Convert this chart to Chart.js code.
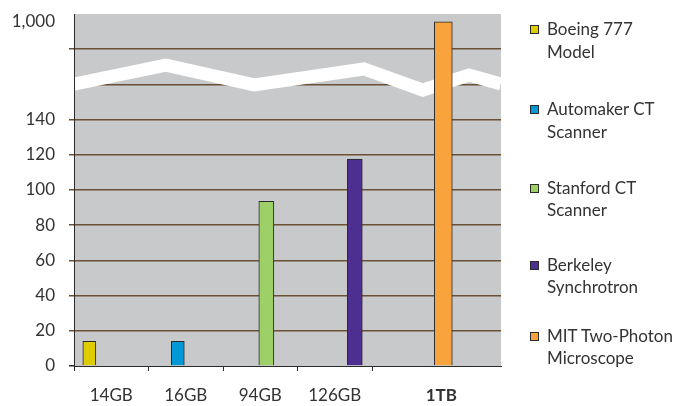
<!DOCTYPE html>
<html><head><meta charset="utf-8">
<script src="https://cdn.jsdelivr.net/npm/chart.js@4.4.1/dist/chart.umd.min.js"></script>
<style>
html,body{margin:0;padding:0;background:#fff;}
#wrap{position:relative;width:689px;height:406px;}
canvas{position:absolute;left:0;top:0;}
#legend{position:absolute;left:0;top:0;width:689px;height:406px;pointer-events:none;font-family:Lato,sans-serif;font-size:17px;color:#333;}
.item{position:absolute;left:530px;line-height:22.6px;white-space:nowrap;}
.box{position:absolute;left:0;top:7px;width:9px;height:9px;box-sizing:border-box;border:1px solid #2a2a2a;}
.txt{position:absolute;left:17px;top:0;}
</style></head>
<body><div id="wrap"><canvas id="c" width="689" height="406"></canvas><div id="legend"></div></div>
<script>
// ---- data ----
const categories = ['14GB', '16GB', '94GB', '126GB', '1TB'];
const seriesNames = [['Boeing 777', 'Model'], ['Automaker CT', 'Scanner'], ['Stanford CT', 'Scanner'], ['Berkeley', 'Synchrotron'], ['MIT Two-Photon', 'Microscope']];
const seriesValues = [14, 14, 93.5, 117.5, 1000];
const seriesColors = ['#dfcc00', '#0099d8', '#9dd066', '#4c2f90', '#f8a33b'];
const yTickValues = [0, 20, 40, 60, 80, 100, 120, 140, 1000];
const yTickLabels = ['0', '20', '40', '60', '80', '100', '120', '140', '1,000'];
// axis break (zigzag) path, in axis units
const breakX = [0, 0.215, 0.422, 0.679, 0.817, 0.925, 1];
const breakY = [160.2, 171, 159.7, 168.75, 156.8, 165.3, 160.2];

// ---- layout / style constants ----
const BREAK_FROM = 150, AXIS_AT_1000 = 195.5;
const toAxis = v => v <= BREAK_FROM ? v : BREAK_FROM + (v - BREAK_FROM) * (AXIS_AT_1000 - BREAK_FROM) / (1000 - BREAK_FROM);
const yGridOnly = [160, 180];
const barWidths = [13, 13, 15, 15, 18];
const xBoundaryTicks = [0, 1, 2, 3, 4];
const xLabelSlots = [0.5, 1.5, 2.5, 3.5, 4.93];
const SLOT_MAX = 5.7315;
const legendBoxCenters = [29.5, 109.5, 188, 265, 336];
const GRID = '#6a5035', DARK = '#2b2b2b', FONT = 'Lato';

const barDatasets = categories.map((c, i) => ({
  type: 'bar',
  label: seriesNames[i].join(' '),
  data: [{ x: i, y: toAxis(seriesValues[i]) }],
  xAxisID: 'x', yAxisID: 'y',
  backgroundColor: seriesColors[i], borderColor: DARK, borderWidth: 1,
  barThickness: barWidths[i], grouped: false, order: 0
}));
const breakDataset = {
  type: 'line', label: 'break',
  data: breakX.map((x, i) => ({ x, y: breakY[i] })),
  xAxisID: 'xb', yAxisID: 'y',
  borderColor: '#ffffff', borderWidth: 13, pointRadius: 0, fill: false,
  tension: 0, borderJoinStyle: 'miter', clip: 0, order: 10
};

const yAxisVals = yTickValues.map(toAxis);
const isAxis = (a, b) => Math.abs(a - b) < 1e-6;

const plotBg = {
  id: 'plotBg',
  beforeDraw(chart) {
    const { ctx, chartArea: a } = chart;
    ctx.save();
    ctx.fillStyle = '#ffffff';
    ctx.fillRect(0, 0, chart.width, chart.height);
    ctx.fillStyle = '#c8c9cb';
    ctx.fillRect(a.left, a.top, a.right - a.left, a.bottom - a.top);
    ctx.restore();
  }
};

new Chart(document.getElementById('c'), {
  type: 'bar',
  data: { datasets: [...barDatasets, breakDataset] },
  plugins: [plotBg],
  options: {
    responsive: false, animation: false, devicePixelRatio: 1,
    layout: { padding: { left: 0, right: 188, top: 14, bottom: 0 } },
    plugins: { legend: { display: false }, tooltip: { enabled: false } },
    scales: {
      x: { type: 'linear', display: false, offset: false, min: -0.173, max: 4.652 },
      xb: { type: 'linear', display: false, offset: false, min: 0, max: 1 },
      xt: {
        type: 'linear', position: 'bottom', offset: false, min: 0, max: SLOT_MAX, weight: 0,
        afterBuildTicks: s => { s.ticks = xBoundaryTicks.map(v => ({ value: v })); },
        afterFit: s => { s.height = 5; },
        ticks: { display: false },
        grid: { offset: false, drawOnChartArea: false, drawTicks: true, tickLength: 5, color: DARK, lineWidth: 1 },
        border: { display: true, color: DARK, width: 1, z: 1 }
      },
      xl: {
        type: 'linear', position: 'bottom', offset: false, min: 0, max: SLOT_MAX, weight: 1,
        afterBuildTicks: s => { s.ticks = xLabelSlots.map(v => ({ value: v })); },
        afterFit: s => { s.height = 35; },
        ticks: {
          callback: (v, i) => categories[i], autoSkip: false, maxRotation: 0, padding: 14, color: '#333',
          font: ctx => ({ family: FONT, size: 17, weight: ctx.index === 4 ? 'bold' : 'normal' })
        },
        grid: { display: false, drawTicks: false, offset: false }, border: { display: false }
      },
      y: {
        type: 'linear', position: 'left', min: 0, max: 200,
        afterBuildTicks: s => {
          s.ticks = yAxisVals.concat(yGridOnly).sort((a, b) => a - b).map(v => ({ value: v }));
        },
        afterFit: s => { s.width = 74; s.paddingTop = 0; s.paddingBottom = 0; },
        ticks: {
          autoSkip: false, padding: 14, color: '#333', font: { family: FONT, size: 17 },
          callback: v => { const k = yAxisVals.findIndex(a => isAxis(a, v)); return k >= 0 ? yTickLabels[k] : ''; }
        },
        grid: {
          lineWidth: 1.5, tickLength: 5, drawTicks: true,
          color: ctx => {
            const v = ctx.tick.value;
            if (isAxis(v, 0) || isAxis(v, toAxis(1000))) return 'rgba(0,0,0,0)';
            return GRID;
          },
          tickColor: ctx => {
            const v = ctx.tick.value;
            if (isAxis(v, 0)) return DARK;
            if (isAxis(v, toAxis(1000)) || isAxis(v, 160)) return 'rgba(0,0,0,0)';
            return GRID;
          }
        },
        border: { display: true, color: DARK, width: 1, z: 1 }
      }
    }
  }
});

// HTML legend from the series arrays
const legendEl = document.getElementById('legend');
seriesNames.forEach((lines, i) => {
  const item = document.createElement('div');
  item.className = 'item';
  item.style.top = (legendBoxCenters[i] - 11.3) + 'px';
  const box = document.createElement('div');
  box.className = 'box';
  box.style.background = seriesColors[i];
  const txt = document.createElement('div');
  txt.className = 'txt';
  txt.innerHTML = lines.map(t => t.replace(/&/g, '&amp;').replace(/</g, '&lt;')).join('<br>');
  item.appendChild(box); item.appendChild(txt);
  legendEl.appendChild(item);
});
</script>
</body></html>
